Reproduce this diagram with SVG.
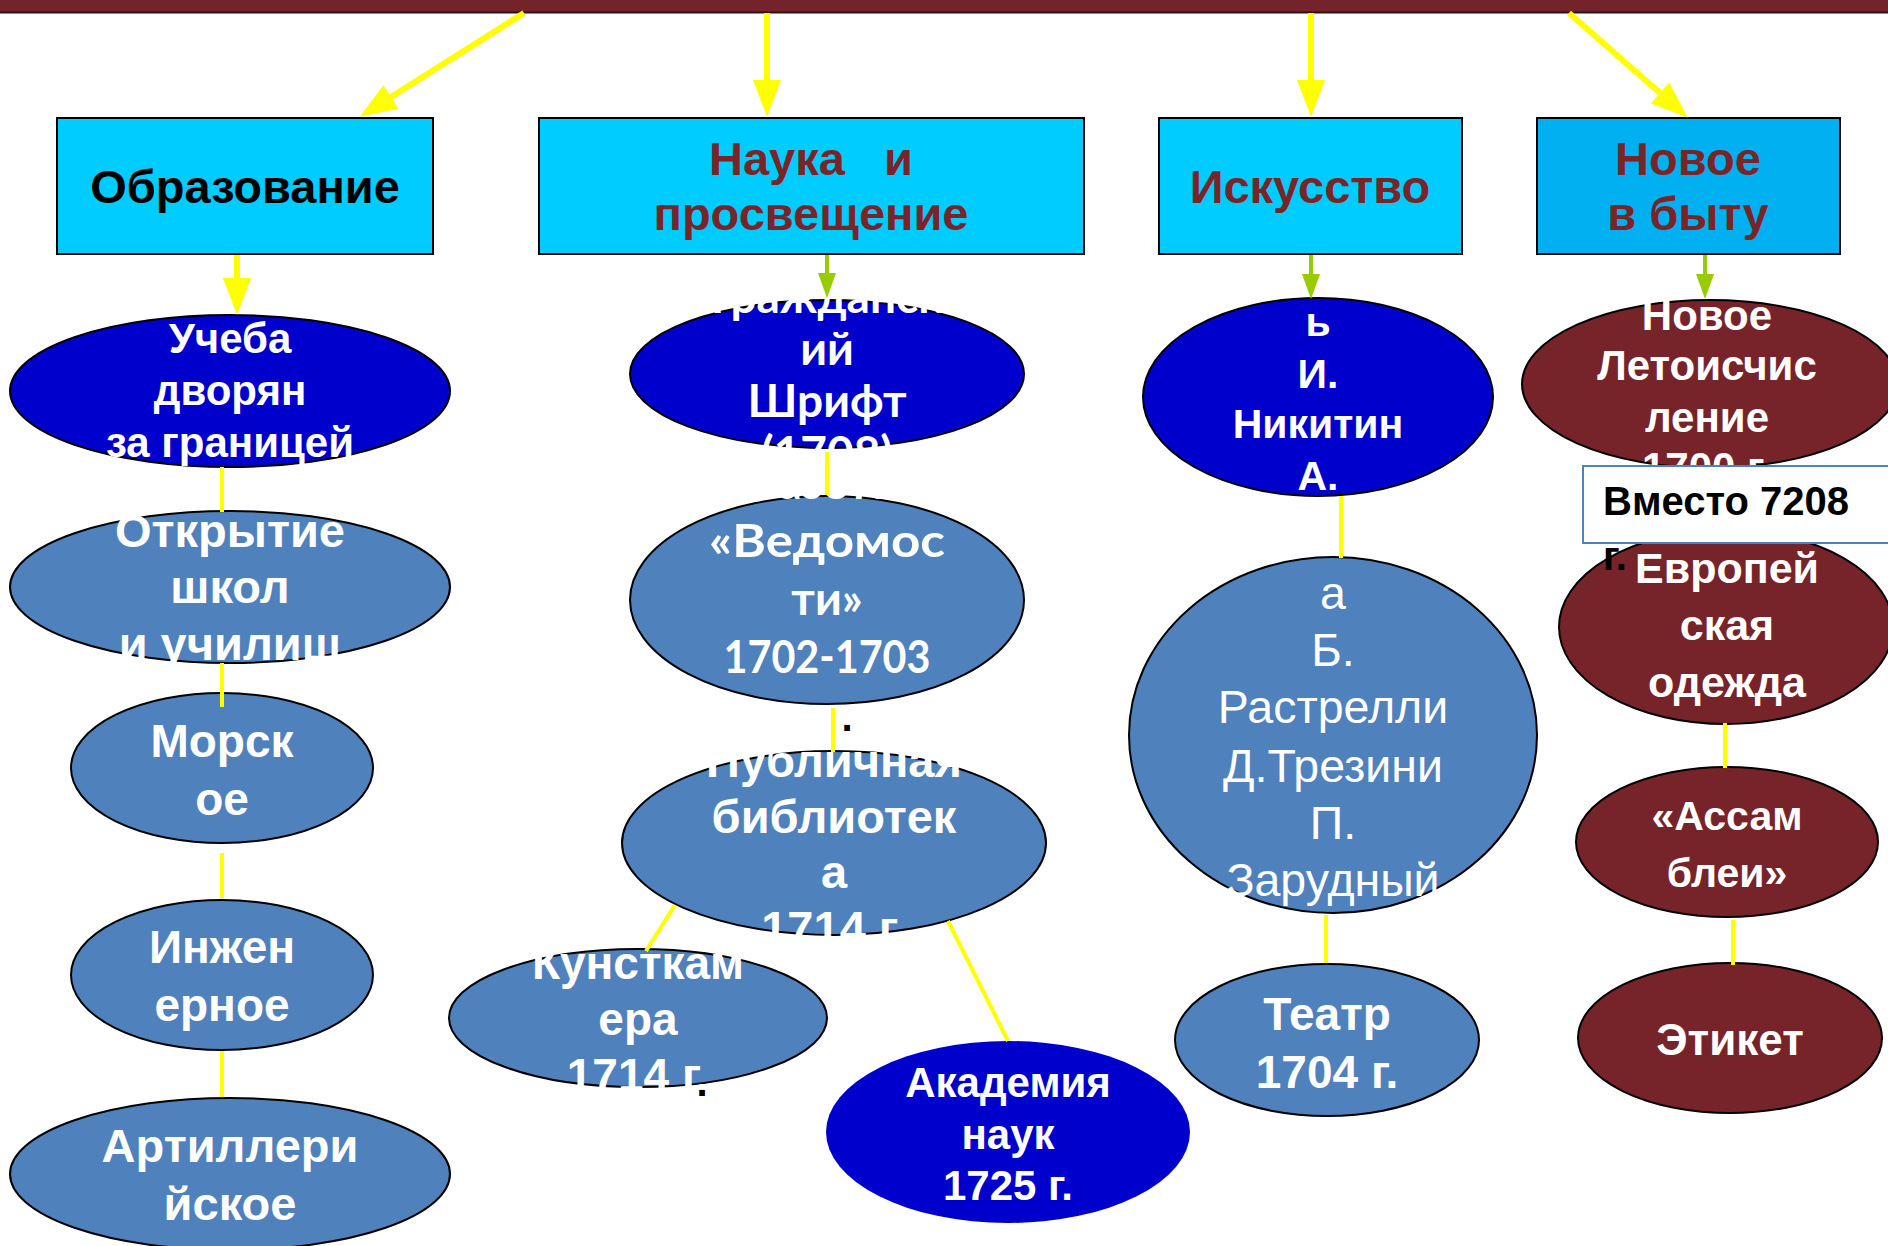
<svg xmlns="http://www.w3.org/2000/svg" width="1888" height="1246" viewBox="0 0 1888 1246">
<style>
text{font-family:"Liberation Sans",Arial,sans-serif;font-weight:bold;text-anchor:middle}
.w{fill:#ffffff}
.hd{fill:#7B2428;font-size:47px}
.box{fill:#00CCFF;stroke:#000;stroke-width:2}
.ed{stroke:#000;stroke-width:2}
.dk{fill:#0000CC}
.st{fill:#4F81BD}
.br{fill:#76242A}
.c{stroke:#FFFF00;stroke-width:4;fill:none}
.ay{stroke:#FFFF00;stroke-width:6;fill:none}
.ag{stroke:#99CC00;stroke-width:4;fill:none}
.lt{font-family:Lato,"Liberation Sans",sans-serif}
.f40{font-size:40px}.f47{font-size:47px}.f46{font-size:46px}.f42{font-size:42px}
</style>
<defs>
<marker id="hy" markerUnits="userSpaceOnUse" markerWidth="40" markerHeight="30" refX="0" refY="14" orient="auto" overflow="visible"><path d="M0,0 L37,14 L0,28 Z" fill="#FFFF00"/></marker>
<marker id="hg" markerUnits="userSpaceOnUse" markerWidth="28" markerHeight="20" refX="0" refY="9" orient="auto" overflow="visible"><path d="M0,0 L25,9 L0,18 Z" fill="#99CC00"/></marker>
</defs>
<rect x="0" y="0" width="1888" height="12" fill="#74232A"/>
<line x1="0" y1="12.5" x2="1888" y2="12.5" stroke="#2a1416" stroke-width="2"/>

<g id="h-obr"><rect class="box" x="57" y="118" width="376" height="136"/><text x="245" y="203" class="f47" fill="#000">Образование</text></g>
<g id="h-nauka"><rect class="box" x="539" y="118" width="545" height="136"/><text class="hd" x="811" y="175" xml:space="preserve">Наука   и</text><text class="hd" x="811" y="230">просвещение</text></g>
<g id="h-isk"><rect class="box" x="1159" y="118" width="303" height="136"/><text class="hd" x="1310" y="203">Искусство</text></g>
<g id="h-byt"><rect class="box" x="1537" y="118" width="303" height="136" style="fill:#00B0F0"/><text class="hd" x="1688" y="175">Новое</text><text class="hd" x="1688" y="230">в быту</text></g>

<g id="n-ucheba"><ellipse class="ed dk" cx="230" cy="391" rx="220" ry="76"/><text class="w f42"><tspan x="230" y="353">Учеба</tspan><tspan x="230" y="405">дворян</tspan><tspan x="230" y="457">за границей</tspan></text></g>
<g id="n-shkoly"><ellipse class="ed st" cx="230" cy="587" rx="220" ry="76"/><text class="w f47"><tspan x="230" y="547">Открытие</tspan><tspan x="230" y="603">школ</tspan><tspan x="230" y="660">и училищ</tspan></text></g>
<g id="n-morsk"><ellipse class="ed st" cx="222" cy="768" rx="151" ry="75"/><text class="w f46"><tspan x="222" y="757">Морск</tspan><tspan x="222" y="815">ое</tspan></text></g>
<g id="n-inzh"><ellipse class="ed st" cx="222" cy="975" rx="151" ry="75"/><text class="w f46"><tspan x="222" y="963">Инжен</tspan><tspan x="222" y="1021">ерное</tspan></text></g>
<g id="n-art"><ellipse class="ed st" cx="230" cy="1174" rx="220" ry="76"/><text class="w f47"><tspan x="230" y="1162">Артиллери</tspan><tspan x="230" y="1220">йское</tspan></text></g>

<g id="n-shrift"><ellipse class="ed dk" cx="827" cy="374" rx="197" ry="74"/><text class="w lt" style="font-size:46px"><tspan x="827" y="313">Гражданск</tspan><tspan x="827" y="365">ий</tspan><tspan x="827" y="417">Шрифт</tspan><tspan x="827" y="469">(1708)</tspan></text></g>
<g id="n-vedom"><ellipse class="ed st" cx="827" cy="600" rx="197" ry="104"/><text class="w lt" style="font-size:46px"><tspan x="827" y="499">Газета</tspan><tspan x="827" y="557" textLength="236" lengthAdjust="spacingAndGlyphs">«Ведомос</tspan><tspan x="827" y="615">ти»</tspan><tspan x="827" y="673" textLength="207" lengthAdjust="spacingAndGlyphs">1702-1703</tspan></text><text x="847" y="731" class="f40" fill="#000">.</text></g>
<g id="n-bibl"><ellipse class="ed st" cx="834" cy="843" rx="212" ry="92"/><text class="w f47"><tspan x="834" y="777">Публичная</tspan><tspan x="834" y="833">библиотек</tspan><tspan x="834" y="888">а</tspan><tspan x="834" y="944">1714 г.</tspan></text></g>
<g id="n-kunst"><ellipse class="ed st" cx="638" cy="1018" rx="189" ry="69"/><text class="w f46"><tspan x="638" y="979">Кунсткам</tspan><tspan x="638" y="1035">ера</tspan><tspan x="638" y="1091">1714 г.</tspan></text><text x="702" y="1096" class="f40" fill="#000">.</text></g>
<g id="n-akad"><ellipse class="dk" cx="1008" cy="1132" rx="182" ry="91"/><text class="w f42"><tspan x="1008" y="1097">Академия</tspan><tspan x="1008" y="1149">наук</tspan><tspan x="1008" y="1200">1725 г.</tspan></text></g>

<g id="n-zhiv"><ellipse class="ed dk" cx="1318" cy="397" rx="175" ry="99"/><text class="w" style="font-size:41px"><tspan x="1318" y="284">Живопис</tspan><tspan x="1318" y="336">ь</tspan><tspan x="1318" y="388">И.</tspan><tspan x="1318" y="438">Никитин</tspan><tspan x="1318" y="490">А.</tspan></text></g>
<g id="n-arch"><ellipse class="ed st" cx="1333" cy="735" rx="204" ry="178"/><text class="w" style="font-weight:normal;font-size:46.5px"><tspan x="1333" y="609">а</tspan><tspan x="1333" y="666">Б.</tspan><tspan x="1333" y="723">Растрелли</tspan><tspan x="1333" y="782">Д.Трезини</tspan><tspan x="1333" y="839">П.</tspan><tspan x="1333" y="896">Зарудный</tspan></text></g>
<g id="n-teatr"><ellipse class="ed st" cx="1327" cy="1040" rx="152" ry="76"/><text class="w f46"><tspan x="1327" y="1030">Театр</tspan><tspan x="1327" y="1088">1704 г.</tspan></text></g>

<g id="n-leto"><ellipse class="ed br" cx="1710" cy="384" rx="188" ry="84"/><text class="w" style="font-size:42px"><tspan x="1707" y="330">Новое</tspan><tspan x="1707" y="380">Летоисчис</tspan><tspan x="1707" y="432">ление</tspan><tspan x="1707" y="482">1700 г.</tspan></text></g>
<g id="n-evrop"><ellipse class="ed br" cx="1726" cy="627" rx="167" ry="97"/><text class="w" style="font-size:43px"><tspan x="1727" y="583">Европей</tspan><tspan x="1727" y="640">ская</tspan><tspan x="1727" y="697">одежда</tspan></text></g>
<g id="n-vmesto"><rect x="1583" y="466" width="320" height="77" fill="#fff" stroke="#4F81BD" stroke-width="2"/><text class="f40" fill="#000" style="text-anchor:start"><tspan x="1603" y="515">Вместо 7208</tspan><tspan x="1603" y="570">г.</tspan></text></g>
<g id="n-assam"><ellipse class="ed br" cx="1727" cy="842" rx="151" ry="75"/><text class="w" style="font-size:41px"><tspan x="1727" y="830">«Ассам</tspan><tspan x="1727" y="887">блеи»</tspan></text></g>
<g id="n-etiket"><ellipse class="ed br" cx="1730" cy="1038" rx="152" ry="75"/><text class="w" style="font-size:44px" x="1730" y="1055">Этикет</text></g>

<g id="connectors">
<line class="ay" x1="524" y1="13" x2="391" y2="97" marker-end="url(#hy)"/>
<line class="ay" x1="767" y1="13" x2="767" y2="80" marker-end="url(#hy)"/>
<line class="ay" x1="1311" y1="13" x2="1311" y2="80" marker-end="url(#hy)"/>
<line class="ay" x1="1569" y1="13" x2="1660" y2="93" marker-end="url(#hy)"/>
<line class="ay" x1="237" y1="255" x2="237" y2="278" marker-end="url(#hy)"/>
<line class="ag" x1="827" y1="255" x2="827" y2="273" marker-end="url(#hg)"/>
<line class="ag" x1="1311" y1="255" x2="1311" y2="274" marker-end="url(#hg)"/>
<line class="ag" x1="1705" y1="255" x2="1705" y2="274" marker-end="url(#hg)"/>
<line class="c" x1="222" y1="467" x2="222" y2="512"/>
<line class="c" x1="222" y1="663" x2="222" y2="707"/>
<line class="c" x1="222" y1="853" x2="222" y2="898"/>
<line class="c" x1="222" y1="1051" x2="222" y2="1097"/>
<line class="c" x1="827" y1="452" x2="827" y2="495"/>
<line class="c" x1="833" y1="708" x2="833" y2="752"/>
<line class="c" x1="675" y1="905" x2="646" y2="951"/>
<line class="c" x1="948" y1="921" x2="1008" y2="1041"/>
<line class="c" x1="1341" y1="496" x2="1341" y2="558"/>
<line class="c" x1="1326" y1="915" x2="1326" y2="963"/>
<line class="c" x1="1725" y1="723" x2="1725" y2="768"/>
<line class="c" x1="1733" y1="920" x2="1733" y2="965"/>
</g>
</svg>
